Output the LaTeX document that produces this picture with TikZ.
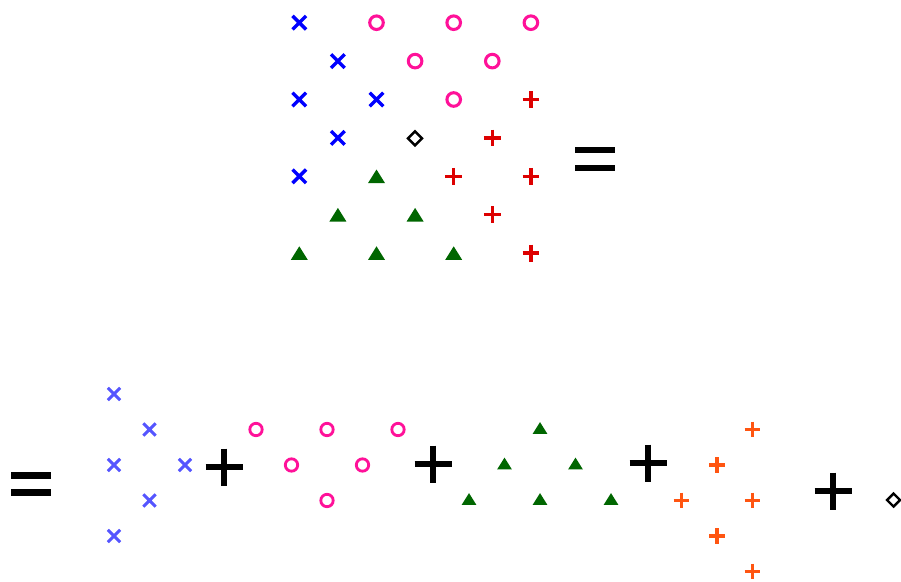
\documentclass[tikz,border=0pt]{standalone}
\definecolor{cblue}{HTML}{0000FF}
\definecolor{clblue}{HTML}{5555FF}
\definecolor{cpink}{HTML}{FF1199}
\definecolor{cred}{HTML}{DD0000}
\definecolor{cgreen}{HTML}{006600}
\definecolor{corange}{HTML}{FF5511}
\tikzset{
  pics/xmark/.style={code={\draw (-#1,-#1) -- (#1,#1) (-#1,#1) -- (#1,-#1);}},
  pics/omark/.style={code={\draw (0,0) circle[radius=#1];}},
  pics/pmark/.style={code={\draw (-#1,0) -- (#1,0) (0,-#1) -- (0,#1);}},
  pics/tmark/.style={code={\fill (-#1,0.8*#1) -- (#1,0.8*#1) -- (0,-0.8*#1) -- cycle;}},
  pics/dmark/.style={code={\draw (-#1,0) -- (0,-#1) -- (#1,0) -- (0,#1) -- cycle;}},
  pics/equals/.style={code={\draw (-20,-#1) -- (20,-#1) (-20,#1) -- (20,#1);}},
  pics/equals/.default=9,
  topx/.style={cblue, line width=2.9pt},
  topo/.style={cpink, line width=2.6pt},
  topp/.style={cred, line width=2.8pt},
  topt/.style={cgreen},
  lowx/.style={clblue, line width=2.5pt},
  lowo/.style={cpink, line width=2.4pt},
  lowp/.style={corange, line width=2.6pt},
  lowt/.style={cgreen},
  dia/.style={black, line width=2.1pt},
  big/.style={black, line width=5.6pt},
}
\begin{document}
\begin{tikzpicture}[x=0.03cm, y=-0.03cm]
  \useasboundingbox (0,0) rectangle (901,581);
  % mixed cluster, grid of 7 x 7 cells
  \foreach \c/\r in {1/1, 2/2, 1/3, 3/3, 2/4, 1/5}
    \pic[topx] at ({299.3+38.6*(\c-1)}, {22.7+38.4*(\r-1)}) {xmark=6.8};
  \foreach \c/\r in {3/1, 5/1, 7/1, 4/2, 6/2, 5/3}
    \pic[topo] at ({299.3+38.6*(\c-1)}, {22.7+38.4*(\r-1)}) {omark=6.8};
  \foreach \c/\r in {7/3, 6/4, 5/5, 7/5, 6/6, 7/7}
    \pic[topp] at ({299.3+38.6*(\c-1)}, {22.7+38.4*(\r-1)}) {pmark=8.4};
  \foreach \c/\r in {3/5, 2/6, 4/6, 1/7, 3/7, 5/7}
    \pic[topt] at ({299.3+38.6*(\c-1)}, {22.7+38.4*(\r-1)}) {tmark=8.5};
  \pic[dia] at (415,138.3) {dmark=7};
  \pic[big] at (595,159) {equals};
  % separated clusters
  \pic[big, line width=5.4pt] at (31,484) {equals=8.5};
  \foreach \x/\y in {114/394, 149.5/429.5, 114/465, 185/465, 149.5/500.5, 114/536}
    \pic[lowx] at (\x,\y) {xmark=6.2};
  \foreach \x/\y in {256/429.5, 327/429.5, 398/429.5, 291.5/465, 362.5/465, 327/500.5}
    \pic[lowo] at (\x,\y) {omark=6.2};
  \foreach \x/\y in {540/428, 504.5/463.5, 575.5/463.5, 469/499, 540/499, 611/499}
    \pic[lowt] at (\x,\y) {tmark=7.4};
  \foreach \x/\y in {752.5/429.5, 717/465, 681.5/500.5, 752.5/500.5, 717/536, 752.5/571.5}
    \pic[lowp] at (\x,\y) {pmark=7.8};
  \foreach \x/\y in {224/467, 433/464, 648/463, 833/491}
    \pic[big] at (\x,\y) {pmark=18.5};
  \pic[dia] at (893.5,500) {dmark=6.5};
\end{tikzpicture}
\end{document}
